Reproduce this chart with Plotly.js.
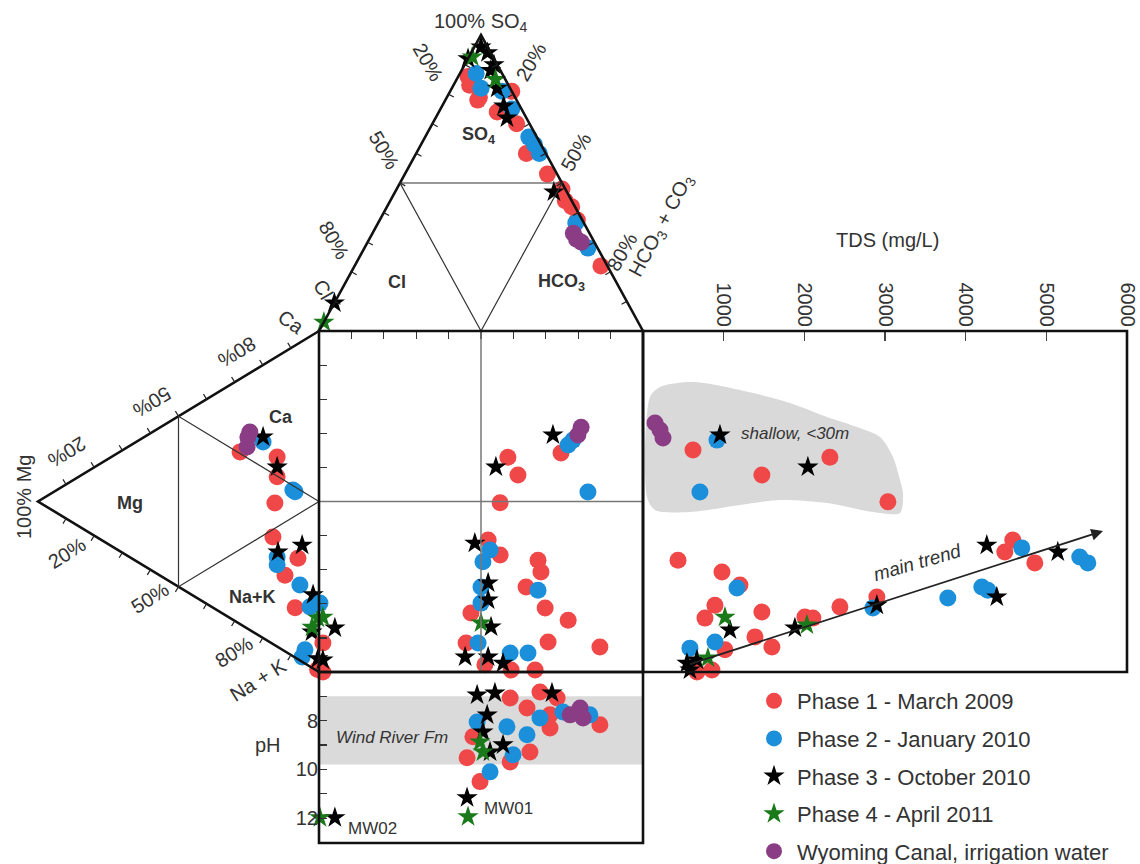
<!DOCTYPE html>
<html><head><meta charset="utf-8">
<script src="https://cdn.plot.ly/plotly-3.0.1.min.js"></script>
<style>html,body{margin:0;padding:0;background:#fff;overflow:hidden}</style>
</head><body><div id="chart" style="width:1140px;height:864px"></div>
<script>
// ---------------- DATA ----------------
// Anion triangle: % SO4 and % HCO3+CO3 (Cl = remainder)
// Cation triangle: % Mg and % Na+K (Ca = remainder)
// Square: anion index (Cl->HCO3, 0-100) and cation index (Na+K->Ca, 0-100)
// TDS panel: TDS (mg/L) vs cation index; pH panel: anion index vs pH
const SERIES_NAMES = ["Phase 1 - March 2009","Phase 2 - January 2010","Phase 3 - October 2010","Phase 4 - April 2011","Wyoming Canal, irrigation water"];

const P1_AN_SO4 = [86,79,81,70,60,53,48,42,37.5,22,74,83,78,44];
const P1_AN_HCO3 = [3,10,19,26,34,44,51,57,61,76,18,5,10,54];
const P1_CAT_MG = [28.1,14.9,14.9,15.7,16.4,7.5,12.1,8.5,0.5];
const P1_CAT_NA = [21.4,29.5,35.3,42.6,52.2,62.9,65.6,76.9,99];
const P1_SQ_AN = [74.7,58.3,61.4,55.9,52.2,55.9,67.6,68.5,63.9,69.8,76.9,46.9,70.7,86.7,45.4,59.3,66.7,51.2,1.2,1.2];
const P1_SQ_CAT = [64.2,63,57.8,49.6,38.7,34.3,32.8,29.3,24.9,18.8,15.2,17.3,8.8,7.3,8.5,0.6,0.6,2.1,8.5,0];
const P1_TDS = [620,2317,1474,3036,434,979,1202,892,768,1474,1388,1598,1016,855,669,2007,2106,2441,2899,4485,4584,4857];
const P1_TDS_CAT = [65.1,63,57.8,49.9,32.8,29.3,25.5,19.6,15.8,17.6,10.3,7.3,6.5,0.6,0,16.1,15.8,19.1,22,35.2,38.7,32];
const P1_PH_AN = [59,64.2,68.2,71.3,45.7,49.7,65.1,71.3,86.7,73.5,59,47.5];
const P1_PH = [7.07,7.48,6.82,7.76,9.52,10.5,9.28,8.3,8.17,7.07,9.69,8.66];

const P2_AN_SO4 = [87,82,81,75,65.5,60,36.5,28,63];
const P2_AN_HCO3 = [5,9,16,22,32,38,61,69,35];
const P2_CAT_MG = [19.9,9.3,8.5,14.9,14.9,6.8,3.2,5,6];
const P2_CAT_NA = [22.6,42,42.9,58.8,61.1,71.1,79.3,91,92.6];
const P2_SQ_AN = [76.9,78.4,83,52.8,50.6,67.6,50,50,49.1,59,64.5,0.3];
const P2_SQ_CAT = [66.6,68,52.8,35.8,32.3,24,24.9,20.2,8.5,5.6,5.6,20.2];
const P2_TDS = [917,706,1165,582,892,2850,3779,4200,4275,4696,5414,5514];
const P2_TDS_CAT = [68,52.8,24.6,7,8.8,18.8,21.7,24.9,24,36.4,33.7,32];
const P2_PH_AN = [48.8,58,64.2,68.2,52.8,59.9,75.3,83.6];
const P2_PH = [8.05,8.25,8.58,7.89,10.1,9.4,7.64,7.76];

const P3_AN_SO4 = [96,92,88,82,76,72,94,90,47,9.5];
const P3_AN_HCO3 = [2,0,9,14,19,22,5,9,49,0];
const P3_CAT_MG = [19.9,14.9,14.6,6,2.1,2.5,0.4];
const P3_CAT_NA = [21.1,32.4,57.5,59.8,76.3,87,95.9];
const P3_SQ_AN = [72.2,54.6,48.1,52.2,53.1,45.1,52.2,56.8,4.9,1.2,52.2];
const P3_SQ_CAT = [69.5,60.1,37.8,21.1,13.2,4.4,4.4,2.6,12.9,3.5,26.1];
const P3_TDS = [954,2044,1078,545,669,582,1883,2899,4386,4262,5142];
const P3_TDS_CAT = [69.5,60.1,12.3,2.6,3.5,0.6,12.9,19.6,22,37.2,35.2];
const P3_PH_AN = [48.8,54.3,51.9,50.6,56.8,52.8,71.9,45.7,4.9];
const P3_PH = [6.94,6.86,7.76,8.46,8.99,9.28,6.86,11.16,11.98];

const P4_AN_SO4 = [92.6,3,85];
const P4_AN_HCO3 = [1,0,12];
const P4_CAT_MG = [0.4,2.5];
const P4_CAT_NA = [84,85.6];
const P4_SQ_AN = [50,1.2];
const P4_SQ_CAT = [14.4,16.1];
const P4_TDS = [1016,805,2032];
const P4_TDS_CAT = [16.1,4.1,13.8];
const P4_PH_AN = [49.7,50.6,46,0.3];
const P4_PH = [8.87,9.28,11.94,11.98];

const WC_AN_SO4 = [33,31,30];
const WC_AN_HCO3 = [62,64,66];
const WC_CAT_MG = [25.3,25.6,24.6];
const WC_CAT_NA = [18.5,21.2,17.3];
const WC_SQ_AN = [80.9,79.9];
const WC_SQ_CAT = [71.8,69.5];
const WC_TDS = [149,248,211];
const WC_TDS_CAT = [73,68.6,71];
const WC_PH_AN = [77.5,80.6,81.5];
const WC_PH = [7.76,7.48,7.89];

const TDS_TICKS = [1000,2000,3000,4000,5000,6000];
const PH_TICKS = [8,10,12];

// ---------------- LAYOUT GEOMETRY ----------------
const W = 1140, H = 864;
const SQ_L = 319, SQ_R = 643, SQ_T = 331, SQ_B = 672, TDS_R = 1127, PH_B = 843;
const SQ_MX = (SQ_L + SQ_R) / 2, SQ_MY = (SQ_T + SQ_B) / 2;
const AN_APEX = [SQ_MX, 35];             // SO4 apex
const AN_L = [SQ_L, SQ_T], AN_R = [SQ_R, SQ_T];
const CAT_CA = [SQ_L, SQ_T], CAT_NA = [SQ_L, SQ_B], CAT_MG = [38, SQ_MY];

const FONT = '"Liberation Sans", Arial, Helvetica, sans-serif';
const TXT = '#333333';
const COLORS = ['#f04848', '#1c8fdb', '#000000', '#1a7a1a', '#8a3d84'];
const SYMBOLS = ['circle', 'circle', 'star', 'star', 'circle'];
const SIZES = [17, 17, 16, 16, 17];

function anionXY(so4, hco3) {
  const x = [], y = [];
  so4.forEach((a0, i) => {
    const a = a0 / 100, c = hco3[i] / 100, b = 1 - a - c;
    x.push(a * AN_APEX[0] + b * AN_L[0] + c * AN_R[0]);
    y.push(a * AN_APEX[1] + b * AN_L[1] + c * AN_R[1]);
  });
  return {x, y};
}
function cationXY(mg, na) {
  const x = [], y = [];
  mg.forEach((m0, i) => {
    const m = m0 / 100, n = na[i] / 100, c = 1 - m - n;
    x.push(c * CAT_CA[0] + m * CAT_MG[0] + n * CAT_NA[0]);
    y.push(c * CAT_CA[1] + m * CAT_MG[1] + n * CAT_NA[1]);
  });
  return {x, y};
}

const SERIES = [
  [P1_AN_SO4,P1_AN_HCO3,P1_CAT_MG,P1_CAT_NA,P1_SQ_AN,P1_SQ_CAT,P1_TDS,P1_TDS_CAT,P1_PH_AN,P1_PH],
  [P2_AN_SO4,P2_AN_HCO3,P2_CAT_MG,P2_CAT_NA,P2_SQ_AN,P2_SQ_CAT,P2_TDS,P2_TDS_CAT,P2_PH_AN,P2_PH],
  [P3_AN_SO4,P3_AN_HCO3,P3_CAT_MG,P3_CAT_NA,P3_SQ_AN,P3_SQ_CAT,P3_TDS,P3_TDS_CAT,P3_PH_AN,P3_PH],
  [P4_AN_SO4,P4_AN_HCO3,P4_CAT_MG,P4_CAT_NA,P4_SQ_AN,P4_SQ_CAT,P4_TDS,P4_TDS_CAT,P4_PH_AN,P4_PH],
  [WC_AN_SO4,WC_AN_HCO3,WC_CAT_MG,WC_CAT_NA,WC_SQ_AN,WC_SQ_CAT,WC_TDS,WC_TDS_CAT,WC_PH_AN,WC_PH]
];

const traces = [];
// grey "shallow" region outline (annotation region, canvas coordinates)
const BLOB_X = [650,660,693,740,790,827,857,880,893,900,903,900,873,827,780,740,690,655,647,650];
const BLOB_Y = [397,387,382,390,403,417,427,437,457,480,493,513,512,503,500,505,512,510,497,397];
traces.push({x: BLOB_X, y: BLOB_Y, xaxis: 'x', yaxis: 'y', mode: 'lines', fill: 'toself',
  fillcolor: '#d9d9d9', line: {width: 0, shape: 'spline', smoothing: 0.8, color: '#d9d9d9'},
  hoverinfo: 'skip', showlegend: false});

SERIES.forEach((s, k) => {
  const mk = {color: COLORS[k], symbol: SYMBOLS[k], size: SIZES[k], line: {width: 0}};
  const base = {mode: 'markers', marker: mk, name: SERIES_NAMES[k], legendgroup: 'g' + k,
    cliponaxis: false, hoverinfo: 'skip'};
  traces.push(Object.assign({}, base, {x: s[4], y: s[5], xaxis: 'x2', yaxis: 'y2', showlegend: true}));
  const an = anionXY(s[0], s[1]);
  traces.push(Object.assign({}, base, {x: an.x, y: an.y, xaxis: 'x', yaxis: 'y', showlegend: false}));
  const ca = cationXY(s[2], s[3]);
  traces.push(Object.assign({}, base, {x: ca.x, y: ca.y, xaxis: 'x', yaxis: 'y', showlegend: false}));
  traces.push(Object.assign({}, base, {x: s[6], y: s[7], xaxis: 'x3', yaxis: 'y2', showlegend: false}));
  traces.push(Object.assign({}, base, {x: s[8], y: s[9], xaxis: 'x2', yaxis: 'y3', showlegend: false}));
});

// ---------------- SHAPES ----------------
const shapes = [];
const thick = {color: '#111', width: 2.6};
const thin = {color: '#333', width: 1.2};
function seg(x0, y0, x1, y1, line) {
  shapes.push({type: 'line', xref: 'x', yref: 'y', x0, y0, x1, y1, line});
}
function path(d, line) { shapes.push({type: 'path', xref: 'x', yref: 'y', path: d, line}); }

// pH band
shapes.push({type: 'rect', xref: 'x2', yref: 'y3', x0: 0, x1: 100, y0: 7.0, y1: 9.8,
  fillcolor: '#dadada', line: {width: 0}, layer: 'below'});
// triangle outlines
path(`M${AN_L[0]},${AN_L[1]} L${AN_APEX[0]},${AN_APEX[1]} L${AN_R[0]},${AN_R[1]}`, thick);
path(`M${CAT_CA[0]},${CAT_CA[1]} L${CAT_MG[0]},${CAT_MG[1]} L${CAT_NA[0]},${CAT_NA[1]}`, thick);
// inner triangles
const amL = [(AN_L[0]+AN_APEX[0])/2, (AN_L[1]+AN_APEX[1])/2], amR = [(AN_R[0]+AN_APEX[0])/2, (AN_R[1]+AN_APEX[1])/2];
path(`M${amL[0]},${amL[1]} L${amR[0]},${amR[1]} L${SQ_MX},${SQ_T} Z`, thin);
const cmT = [(CAT_CA[0]+CAT_MG[0])/2, (CAT_CA[1]+CAT_MG[1])/2], cmB = [(CAT_NA[0]+CAT_MG[0])/2, (CAT_NA[1]+CAT_MG[1])/2];
path(`M${cmT[0]},${cmT[1]} L${cmB[0]},${cmB[1]} L${SQ_L},${SQ_MY} Z`, thin);
// square mid lines
seg(SQ_MX, SQ_T, SQ_MX, SQ_B, {color: '#777', width: 1.5});
seg(SQ_L, SQ_MY, SQ_R, SQ_MY, {color: '#777', width: 1.5});
// boxes
shapes.push({type: 'rect', xref: 'x', yref: 'y', x0: SQ_L, x1: SQ_R, y0: SQ_T, y1: SQ_B, line: thick});
shapes.push({type: 'rect', xref: 'x', yref: 'y', x0: SQ_R, x1: TDS_R, y0: SQ_T, y1: SQ_B, line: thick});
shapes.push({type: 'rect', xref: 'x', yref: 'y', x0: SQ_L, x1: SQ_R, y0: SQ_B, y1: PH_B, line: thick});
// triangle side ticks (10 % steps, pointing inward)
function sideTicks(p0, p1, inward) {
  for (let i = 1; i < 10; i++) {
    const t = i / 10, x = p0[0] + t * (p1[0] - p0[0]), y = p0[1] + t * (p1[1] - p0[1]);
    seg(x, y, x + inward[0] * 6, y + inward[1] * 6, {color: '#222', width: 1.2});
  }
}
function normIn(p0, p1, sign) {
  const dx = p1[0]-p0[0], dy = p1[1]-p0[1], L = Math.hypot(dx, dy);
  return [sign * -dy / L, sign * dx / L];
}
sideTicks(AN_L, AN_APEX, normIn(AN_L, AN_APEX, 1));
sideTicks(AN_R, AN_APEX, normIn(AN_R, AN_APEX, -1));
sideTicks(CAT_CA, CAT_MG, normIn(CAT_CA, CAT_MG, 1));
sideTicks(CAT_NA, CAT_MG, normIn(CAT_NA, CAT_MG, -1));

// ---------------- ANNOTATIONS ----------------
const ann = [];
function txt(text, x, y, size, angle, extra) {
  ann.push(Object.assign({text, x, y, xref: 'x', yref: 'y', showarrow: false, textangle: angle || 0,
    font: {family: FONT, size: size, color: TXT}, xanchor: 'center', yanchor: 'middle'}, extra || {}));
}
txt('100% SO<sub>4</sub>', 481, 22, 20, 0);
txt('20%', 428, 62, 20, 60);
txt('50%', 384, 150, 20, 60);
txt('80%', 334, 240, 20, 60);
txt('Cl', 323, 289, 20, 60);
txt('20%', 531, 62, 20, -60);
txt('50%', 576, 152, 20, -60);
txt('80%', 622, 252, 20, -60);
txt('HCO<sub>3</sub> + CO<sub>3</sub>', 661, 226, 20, -62);
txt('TDS (mg/L)', 887, 240, 20, 0);
txt('Ca', 291, 322, 20, 35);
txt('80%', 237, 352, 20, 149);
txt('50%', 152, 402, 20, 149);
txt('20%', 67, 452, 20, 149);
txt('100% Mg', 24, 497, 20, -90);
txt('20%', 67, 553, 20, -32);
txt('50%', 150, 598, 20, -32);
txt('80%', 234, 652, 20, -32);
txt('Na + K', 258, 680, 20, -32);
txt('<b>SO<sub>4</sub></b>', 478, 135, 18, 0);
txt('<b>Cl</b>', 397, 282, 18, 0);
txt('<b>HCO<sub>3</sub></b>', 561, 282, 18, 0);
txt('<b>Ca</b>', 281, 417, 18, 0);
txt('<b>Mg</b>', 130, 503, 18, 0);
txt('<b>Na+K</b>', 252, 597, 18, 0);
txt('<i>shallow, &lt;30m</i>', 795, 433, 17, 0);
txt('<i>main trend</i>', 917, 562, 19, -16);
txt('<i>Wind River Fm</i>', 392, 737, 17, 0);
txt('MW01', 508, 808, 17, 0);
txt('MW02', 372, 828, 17, 0);
txt('pH', 268, 745, 20, 0);
ann.push({x: 1103, y: 531, ax: 687, ay: 665, xref: 'x', yref: 'y', axref: 'x', ayref: 'y',
  showarrow: true, arrowhead: 2, arrowsize: 1.3, arrowwidth: 1.8, arrowcolor: '#222', text: ' '});

// ---------------- AXES ----------------
const hidden = {visible: false, fixedrange: true, showgrid: false, zeroline: false};
const layout = {
  width: W, height: H, margin: {l: 0, r: 0, t: 0, b: 0, autoexpand: false},
  paper_bgcolor: '#ffffff', plot_bgcolor: 'rgba(0,0,0,0)',
  font: {family: FONT, color: TXT},
  showlegend: true, hovermode: false,
  legend: {x: 751 / W, y: 1 - 680 / H, xanchor: 'left', yanchor: 'top', bgcolor: 'rgba(0,0,0,0)',
    font: {family: FONT, size: 22, color: TXT}, traceorder: 'grouped', tracegroupgap: 6, itemwidth: 36},
  xaxis: Object.assign({domain: [0, 1], range: [0, W]}, hidden),
  yaxis: Object.assign({domain: [0, 1], range: [H, 0]}, hidden),
  xaxis2: {domain: [SQ_L / W, SQ_R / W], range: [0, 100], anchor: 'y2', side: 'top',
    tickvals: [10,20,30,40,50,60,70,80,90], ticks: 'inside', ticklen: 8, tickwidth: 1.2, tickcolor: '#333',
    showticklabels: false, showgrid: false, zeroline: false, showline: false, fixedrange: true},
  yaxis2: {domain: [1 - SQ_B / H, 1 - SQ_T / H], range: [0, 100], anchor: 'x2', side: 'left',
    tickvals: [10,20,30,40,50,60,70,80,90], ticks: 'inside', ticklen: 8, tickwidth: 1.2, tickcolor: '#333',
    showticklabels: false, showgrid: false, zeroline: false, showline: false, fixedrange: true},
  xaxis3: {domain: [SQ_R / W, TDS_R / W], range: [0, 6000], anchor: 'y2', side: 'top',
    tickvals: TDS_TICKS, ticks: 'inside', ticklen: 10, tickwidth: 1.3, tickcolor: '#444', tickangle: 90,
    tickfont: {family: FONT, size: 20, color: TXT}, showgrid: false, zeroline: false, showline: false, fixedrange: true},
  yaxis3: {domain: [1 - PH_B / H, 1 - SQ_B / H], range: [13.02, 6], anchor: 'x2', side: 'left',
    tickvals: PH_TICKS, ticks: 'inside', ticklen: 8, tickwidth: 1.2, tickcolor: '#333',
    minor: {tickvals: [7, 9, 11], ticks: 'inside', ticklen: 8, tickwidth: 1.2, tickcolor: '#333'},
    tickfont: {family: FONT, size: 20, color: TXT}, showgrid: false, zeroline: false, showline: false, fixedrange: true},
  shapes: shapes, annotations: ann
};
Plotly.newPlot('chart', traces, layout, {staticPlot: true, displayModeBar: false});
</script></body></html>
